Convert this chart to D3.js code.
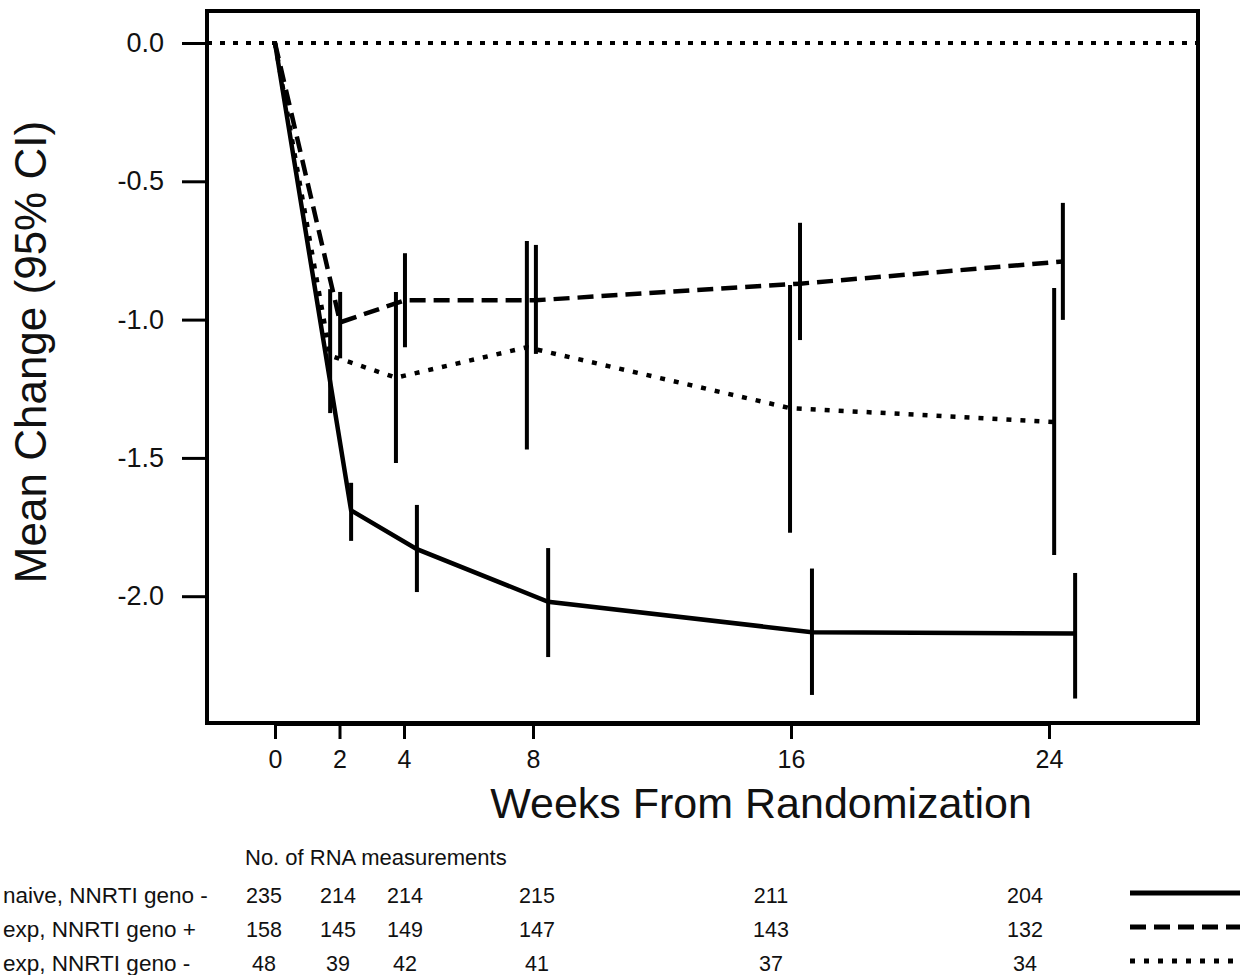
<!DOCTYPE html>
<html>
<head>
<meta charset="utf-8">
<script src="https://cdn.jsdelivr.net/npm/d3@7/dist/d3.min.js"></script>
<style>
  body { margin: 0; background: #fff; }
  svg { display: block; font-family: "Liberation Sans", Arial, sans-serif; }
</style>
</head>
<body>
<div id="chart"></div>
<script>
// Semanas (com pequeno deslocamento de cada grupo) e médias / IC 95%
const weekTicks = [0, 2, 4, 8, 16, 24];
const yTicks = [0, -0.5, -1, -1.5, -2];

const naiveWeeks = [0, 2.36, 4.4, 8.47, 16.65, 24.81];
const naiveMean = [0, -1.69, -1.83, -2.02, -2.13, -2.135];
const naiveLow = [null, -1.8, -1.985, -2.22, -2.357, -2.37];
const naiveHigh = [null, -1.59, -1.67, -1.826, -1.9, -1.916];

const expPosWeeks = [0, 2.02, 4.03, 8.09, 16.28, 24.43];
const expPosMean = [0, -1.01, -0.93, -0.93, -0.87, -0.79];
const expPosLow = [null, -1.14, -1.1, -1.124, -1.074, -1.001];
const expPosHigh = [null, -0.9, -0.76, -0.73, -0.65, -0.578];

const expNegWeeks = [0, 1.71, 3.75, 7.81, 15.97, 24.16];
const expNegMean = [0, -1.13, -1.21, -1.1, -1.32, -1.37];
const expNegLow = [null, -1.338, -1.518, -1.47, -1.771, -1.851];
const expNegHigh = [null, -0.89, -0.9, -0.716, -0.875, -0.886];

// Tabela de número de medidas
const groupLabels = ["naive, NNRTI geno -", "exp, NNRTI geno +", "exp, NNRTI geno -"];
const naiveCounts = [235, 214, 214, 215, 211, 204];
const expPosCounts = [158, 145, 149, 147, 143, 132];
const expNegCounts = [48, 39, 42, 41, 37, 34];

// Layout
const width = 1246, height = 975;
const frame = { left: 207, top: 11, right: 1198, bottom: 723 };
const tableCols = [264, 338, 405, 537, 771, 1025];
const rowY = [895, 929, 963];

const dashStyles = ["none", "16,8", "5,9"];

const svg = d3.select("#chart").append("svg")
  .attr("width", width)
  .attr("height", height);

const x = d3.scaleLinear().domain([0, 24]).range([275, 1049]);
const y = d3.scaleLinear().domain([0, -2]).range([43, 596.2]);

// Moldura
svg.append("rect")
  .attr("x", frame.left).attr("y", frame.top)
  .attr("width", frame.right - frame.left)
  .attr("height", frame.bottom - frame.top)
  .attr("fill", "none").attr("stroke", "#000").attr("stroke-width", 4);

// Eixo X
const xAxis = svg.append("g")
  .attr("transform", `translate(0,${frame.bottom})`)
  .call(d3.axisBottom(x).tickValues(weekTicks).tickSize(16).tickSizeOuter(0).tickPadding(11));
xAxis.select(".domain").attr("stroke-width", 5);
xAxis.selectAll(".tick line").attr("stroke-width", 3);
xAxis.selectAll("text").attr("font-size", 25).attr("font-family", "Liberation Sans, Arial, sans-serif").attr("fill", "#111");

// Eixo Y
const yAxis = svg.append("g")
  .attr("transform", `translate(${frame.left},0)`)
  .call(d3.axisLeft(y).tickValues(yTicks).tickSize(25).tickPadding(18).tickFormat((d) => d.toFixed(1)));
yAxis.select(".domain").remove();
yAxis.selectAll(".tick line").attr("stroke-width", 3);
yAxis.selectAll("text").attr("font-size", 27).attr("font-family", "Liberation Sans, Arial, sans-serif").attr("fill", "#111");

// Títulos
svg.append("text")
  .attr("x", 761).attr("y", 818)
  .attr("text-anchor", "middle")
  .attr("font-size", 43)
  .attr("fill", "#111")
  .text("Weeks From Randomization");

svg.append("text")
  .attr("transform", "translate(46,352) rotate(-90)")
  .attr("text-anchor", "middle")
  .attr("font-size", 44)
  .attr("fill", "#111")
  .text("Mean Change (95% CI)");

// Linha de referência em zero
svg.append("line")
  .attr("x1", frame.left).attr("x2", frame.right)
  .attr("y1", y(0)).attr("y2", y(0))
  .attr("stroke", "#000").attr("stroke-width", 4)
  .attr("stroke-dasharray", "5,8");

// Séries
const series = [
  { weeks: naiveWeeks, mean: naiveMean, low: naiveLow, high: naiveHigh },
  { weeks: expPosWeeks, mean: expPosMean, low: expPosLow, high: expPosHigh },
  { weeks: expNegWeeks, mean: expNegMean, low: expNegLow, high: expNegHigh },
];

const line = d3.line()
  .x((d) => x(d.w))
  .y((d) => y(d.m));

series.forEach((s, i) => {
  const pts = s.weeks.map((w, j) => ({ w, m: s.mean[j], lo: s.low[j], hi: s.high[j] }));

  svg.append("path")
    .datum(pts)
    .attr("d", line)
    .attr("fill", "none")
    .attr("stroke", "#000")
    .attr("stroke-width", 4.5)
    .attr("stroke-dasharray", dashStyles[i]);

  svg.selectAll(null)
    .data(pts.filter((d) => d.lo !== null))
    .enter()
    .append("line")
    .attr("x1", (d) => x(d.w)).attr("x2", (d) => x(d.w))
    .attr("y1", (d) => y(d.hi)).attr("y2", (d) => y(d.lo))
    .attr("stroke", "#000").attr("stroke-width", 4);
});

// Tabela
svg.append("text")
  .attr("x", 245).attr("y", 865)
  .attr("font-size", 22)
  .attr("fill", "#111")
  .text("No. of RNA measurements");

const counts = [naiveCounts, expPosCounts, expNegCounts];

groupLabels.forEach((label, i) => {
  const row = svg.append("g");
  row.append("text")
    .attr("x", 3).attr("y", rowY[i] + 8)
    .attr("font-size", 22.5)
    .attr("fill", "#111")
    .text(label);

  row.selectAll(null)
    .data(counts[i])
    .enter()
    .append("text")
    .attr("x", (d, j) => tableCols[j])
    .attr("y", rowY[i] + 8)
    .attr("text-anchor", "middle")
    .attr("font-size", 21.5)
    .attr("fill", "#111")
    .text((d) => d);

  row.append("line")
    .attr("x1", 1130).attr("x2", 1240)
    .attr("y1", rowY[i] - 2).attr("y2", rowY[i] - 2)
    .attr("stroke", "#000")
    .attr("stroke-width", 5)
    .attr("stroke-dasharray", dashStyles[i]);
});
</script>
</body>
</html>
